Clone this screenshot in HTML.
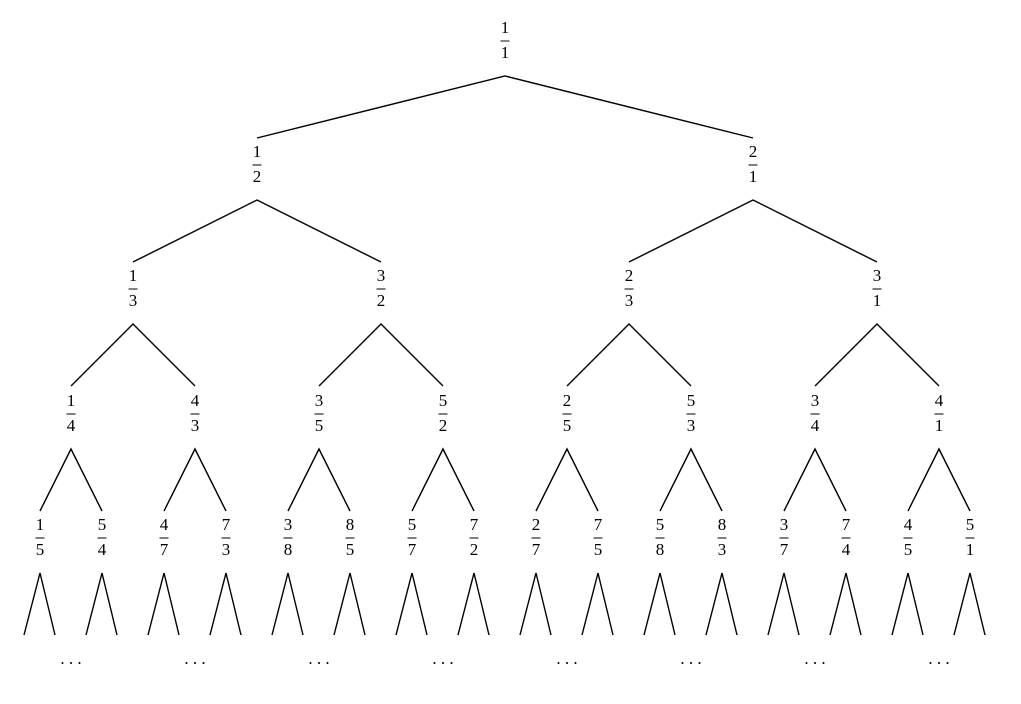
<!DOCTYPE html>
<html><head><meta charset="utf-8"><style>
html,body{margin:0;padding:0;background:#fff;}
svg text{font-family:"Liberation Serif",serif;font-size:17px;fill:#000;text-anchor:middle;}
</style></head><body>
<svg width="1021" height="699" viewBox="0 0 1021 699" xmlns="http://www.w3.org/2000/svg">
<g stroke="#000" stroke-width="1.4" fill="none">
<path d="M257,138L505,76L753,138"/>
<path d="M133,262L257,200L381,262 M629,262L753,200L877,262"/>
<path d="M71,386L133,324L195,386 M319,386L381,324L443,386 M567,386L629,324L691,386 M815,386L877,324L939,386"/>
<path d="M40,511L71,449L102,511 M164,511L195,449L226,511 M288,511L319,449L350,511 M412,511L443,449L474,511 M536,511L567,449L598,511 M660,511L691,449L722,511 M784,511L815,449L846,511 M908,511L939,449L970,511"/>
<path d="M24,635L40,573L55,635 M86,635L102,573L117,635 M148,635L164,573L179,635 M210,635L226,573L241,635 M272,635L288,573L303,635 M334,635L350,573L365,635 M396,635L412,573L427,635 M458,635L474,573L489,635 M520,635L536,573L551,635 M582,635L598,573L613,635 M644,635L660,573L675,635 M706,635L722,573L737,635 M768,635L784,573L799,635 M830,635L846,573L861,635 M892,635L908,573L923,635 M954,635L970,573L985,635"/>
</g>
<g stroke="#333" stroke-width="1.2">
<path d="M500.5,41h9"/>
<path d="M252.5,165h9 M748.5,165h9"/>
<path d="M128.5,289h9 M376.5,289h9 M624.5,289h9 M872.5,289h9"/>
<path d="M66.5,414h9 M190.5,414h9 M314.5,414h9 M438.5,414h9 M562.5,414h9 M686.5,414h9 M810.5,414h9 M934.5,414h9"/>
<path d="M35.5,538h9 M97.5,538h9 M159.5,538h9 M221.5,538h9 M283.5,538h9 M345.5,538h9 M407.5,538h9 M469.5,538h9 M531.5,538h9 M593.5,538h9 M655.5,538h9 M717.5,538h9 M779.5,538h9 M841.5,538h9 M903.5,538h9 M965.5,538h9"/>
</g>
<text x="505" y="33">1</text><text x="505" y="58">1</text>
<text x="257" y="157">1</text><text x="257" y="182">2</text>
<text x="753" y="157">2</text><text x="753" y="182">1</text>
<text x="133" y="281">1</text><text x="133" y="306">3</text>
<text x="381" y="281">3</text><text x="381" y="306">2</text>
<text x="629" y="281">2</text><text x="629" y="306">3</text>
<text x="877" y="281">3</text><text x="877" y="306">1</text>
<text x="71" y="406">1</text><text x="71" y="431">4</text>
<text x="195" y="406">4</text><text x="195" y="431">3</text>
<text x="319" y="406">3</text><text x="319" y="431">5</text>
<text x="443" y="406">5</text><text x="443" y="431">2</text>
<text x="567" y="406">2</text><text x="567" y="431">5</text>
<text x="691" y="406">5</text><text x="691" y="431">3</text>
<text x="815" y="406">3</text><text x="815" y="431">4</text>
<text x="939" y="406">4</text><text x="939" y="431">1</text>
<text x="40" y="530">1</text><text x="40" y="555">5</text>
<text x="102" y="530">5</text><text x="102" y="555">4</text>
<text x="164" y="530">4</text><text x="164" y="555">7</text>
<text x="226" y="530">7</text><text x="226" y="555">3</text>
<text x="288" y="530">3</text><text x="288" y="555">8</text>
<text x="350" y="530">8</text><text x="350" y="555">5</text>
<text x="412" y="530">5</text><text x="412" y="555">7</text>
<text x="474" y="530">7</text><text x="474" y="555">2</text>
<text x="536" y="530">2</text><text x="536" y="555">7</text>
<text x="598" y="530">7</text><text x="598" y="555">5</text>
<text x="660" y="530">5</text><text x="660" y="555">8</text>
<text x="722" y="530">8</text><text x="722" y="555">3</text>
<text x="784" y="530">3</text><text x="784" y="555">7</text>
<text x="846" y="530">7</text><text x="846" y="555">4</text>
<text x="908" y="530">4</text><text x="908" y="555">5</text>
<text x="970" y="530">5</text><text x="970" y="555">1</text>
<text x="71" y="664">. . .</text>
<text x="195" y="664">. . .</text>
<text x="319" y="664">. . .</text>
<text x="443" y="664">. . .</text>
<text x="567" y="664">. . .</text>
<text x="691" y="664">. . .</text>
<text x="815" y="664">. . .</text>
<text x="939" y="664">. . .</text>
</svg>
</body></html>
